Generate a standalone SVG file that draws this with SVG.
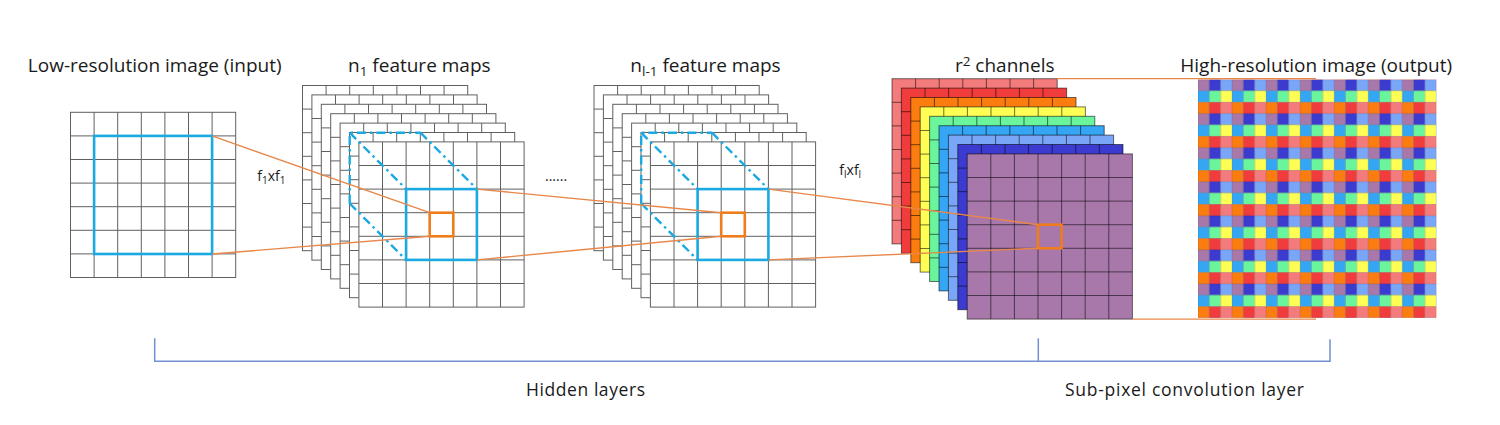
<svg xmlns="http://www.w3.org/2000/svg" xmlns:xlink="http://www.w3.org/1999/xlink" width="1500" height="425" viewBox="0 0 1500 425">
<style>
.title{font-family:"Open Sans","Liberation Sans",sans-serif;font-size:19px;fill:#1a1a1a}
.small{font-family:"Open Sans","Liberation Sans",sans-serif;font-size:14px;fill:#1a1a1a}
.bottom{font-family:"Open Sans","Liberation Sans",sans-serif;font-size:17.5px;fill:#1a1a1a}
.conn{stroke:#e8874a;stroke-width:1.4;fill:none}
.blue{stroke:#1aa9e2;stroke-width:2.6;fill:none}
.dash{stroke:#1aa9e2;stroke-width:2.4;fill:none;stroke-dasharray:9 4 2.5 4}
.orange{stroke:#f07d1c;stroke-width:2.6;fill:none}
.white{fill:#ffffff;stroke:#606060;stroke-width:1}
.col{stroke:#000;stroke-opacity:0.55;stroke-width:1}
.brk{stroke:#7391d0;stroke-width:1.5;fill:none}
</style>
<defs>
<g id="grid">
<rect width="165.2" height="165.2"/>
<path fill="none" d="M23.6,0V165.2M47.2,0V165.2M70.8,0V165.2M94.4,0V165.2M118,0V165.2M141.6,0V165.2M0,23.6H165.2M0,47.2H165.2M0,70.8H165.2M0,94.4H165.2M0,118H165.2M0,141.6H165.2"/>
</g>
<pattern id="px" x="1198" y="79.5" width="34.05" height="34.05" patternUnits="userSpaceOnUse">
<g stroke="#000" stroke-opacity="0.18" stroke-width="0.6">
<rect x="0" y="0" width="11.35" height="11.35" fill="#a878aa"/>
<rect x="11.35" y="0" width="11.35" height="11.35" fill="#3b3bd0"/>
<rect x="22.7" y="0" width="11.35" height="11.35" fill="#7aa6f8"/>
<rect x="0" y="11.35" width="11.35" height="11.35" fill="#34a6f4"/>
<rect x="11.35" y="11.35" width="11.35" height="11.35" fill="#6af59c"/>
<rect x="22.7" y="11.35" width="11.35" height="11.35" fill="#fefe55"/>
<rect x="0" y="22.7" width="11.35" height="11.35" fill="#fb7d10"/>
<rect x="11.35" y="22.7" width="11.35" height="11.35" fill="#f03c3c"/>
<rect x="22.7" y="22.7" width="11.35" height="11.35" fill="#f47b7b"/>
</g>
</pattern>
</defs>

<g id="input">
<text class="title" x="154.7" y="71.7" text-anchor="middle">Low-resolution image (input)</text>
<use href="#grid" x="70.5" y="112.3" class="white"/>
<rect class="blue" x="94.1" y="135.9" width="118" height="118.1"/>
</g>

<g id="feature-maps-1">
<text class="title" x="419.3" y="71.7" text-anchor="middle">n<tspan font-size="13.5" dy="4">1</tspan><tspan dy="-4"> feature maps</tspan></text>
<use href="#grid" x="302.5" y="85.5" class="white"/>
<use href="#grid" x="311.9" y="94.9" class="white"/>
<use href="#grid" x="321.3" y="104.3" class="white"/>
<use href="#grid" x="330.7" y="113.7" class="white"/>
<use href="#grid" x="340.1" y="123.1" class="white"/>
<use href="#grid" x="349.5" y="132.5" class="white"/>
<use href="#grid" x="358.9" y="141.9" class="white"/>
<path class="dash" d="M349.7,203.5V132.7H420.5M349.7,132.7L406.1,189.1M420.5,132.7L476.9,189.1M349.7,203.5L406.1,259.9"/>
<rect class="blue" x="406.1" y="189.1" width="70.8" height="70.8"/>
<rect class="orange" x="429.7" y="212.7" width="23.6" height="23.6"/>
</g>

<g id="ellipsis">
<text class="small" x="545" y="180.5" font-size="13">......</text>
</g>

<g id="feature-maps-l">
<text class="title" x="705.5" y="71.7" text-anchor="middle">n<tspan font-size="13.5" dy="4">l-1</tspan><tspan dy="-4"> feature maps</tspan></text>
<use href="#grid" x="594" y="85.5" class="white"/>
<use href="#grid" x="603.4" y="94.9" class="white"/>
<use href="#grid" x="612.8" y="104.3" class="white"/>
<use href="#grid" x="622.2" y="113.7" class="white"/>
<use href="#grid" x="631.6" y="123.1" class="white"/>
<use href="#grid" x="641" y="132.5" class="white"/>
<use href="#grid" x="650.4" y="141.9" class="white"/>
<path class="dash" d="M641.2,203.5V132.7H712M641.2,132.7L697.6,189.1M712,132.7L768.4,189.1M641.2,203.5L697.6,259.9"/>
<rect class="blue" x="697.6" y="189.1" width="70.8" height="70.8"/>
<rect class="orange" x="721.2" y="212.7" width="23.6" height="23.6"/>
</g>

<g id="channels">
<text class="title" x="1004.7" y="71.7" text-anchor="middle">r<tspan font-size="13.5" dy="-6">2</tspan><tspan dy="6"> channels</tspan></text>
<use href="#grid" x="892" y="78.7" class="col" fill="#f47b7b"/>
<use href="#grid" x="901.4" y="88.1" class="col" fill="#f03c3c"/>
<use href="#grid" x="910.8" y="97.5" class="col" fill="#fb7d10"/>
<use href="#grid" x="920.2" y="106.9" class="col" fill="#fefe55"/>
<use href="#grid" x="929.6" y="116.3" class="col" fill="#6af59c"/>
<use href="#grid" x="939" y="125.7" class="col" fill="#34a6f4"/>
<use href="#grid" x="948.4" y="135.1" class="col" fill="#7aa6f8"/>
<use href="#grid" x="957.8" y="144.5" class="col" fill="#3b3bd0"/>
<use href="#grid" x="967.2" y="153.9" class="col" fill="#a878aa"/>
<rect class="orange" x="1038" y="224.7" width="23.6" height="23.6" stroke="#e0782a"/>
</g>

<g id="output">
<text class="title" x="1316.2" y="71.7" text-anchor="middle">High-resolution image (output)</text>
<rect x="1198" y="79.5" width="238.35" height="238.35" fill="url(#px)"/>
</g>

<g id="kernel-labels">
<text class="small" x="257.3" y="180.5">f<tspan font-size="10" dy="3">1</tspan><tspan dy="-3">xf</tspan><tspan font-size="10" dy="3">1</tspan></text>
<text class="small" x="839.3" y="175">f<tspan font-size="10" dy="3">l</tspan><tspan dy="-3">xf</tspan><tspan font-size="10" dy="3">l</tspan></text>
</g>

<g id="connectors">
<line class="conn" x1="212.1" y1="135.9" x2="429.7" y2="212.7"/>
<line class="conn" x1="212.1" y1="254" x2="429.7" y2="236.3"/>
<line class="conn" x1="476.9" y1="189.1" x2="721.2" y2="212.7"/>
<line class="conn" x1="476.9" y1="259.9" x2="721.2" y2="236.3"/>
<line class="conn" x1="768.4" y1="189.1" x2="1038" y2="224.7"/>
<line class="conn" x1="768.4" y1="259.9" x2="1038" y2="248.3"/>
<line class="conn" x1="1057.2" y1="78.6" x2="1316" y2="78.6"/>
<line class="conn" x1="1132.4" y1="319.1" x2="1316" y2="319.1"/>
</g>

<g id="brackets">
<path class="brk" d="M154.7,338.3V361.3H1330V339.3M1038.3,338.3V361.3"/>
<text class="bottom" x="526" y="395.7" textLength="119" lengthAdjust="spacing">Hidden layers</text>
<text class="bottom" x="1065" y="395.7" textLength="239" lengthAdjust="spacing">Sub-pixel convolution layer</text>
</g>
</svg>
